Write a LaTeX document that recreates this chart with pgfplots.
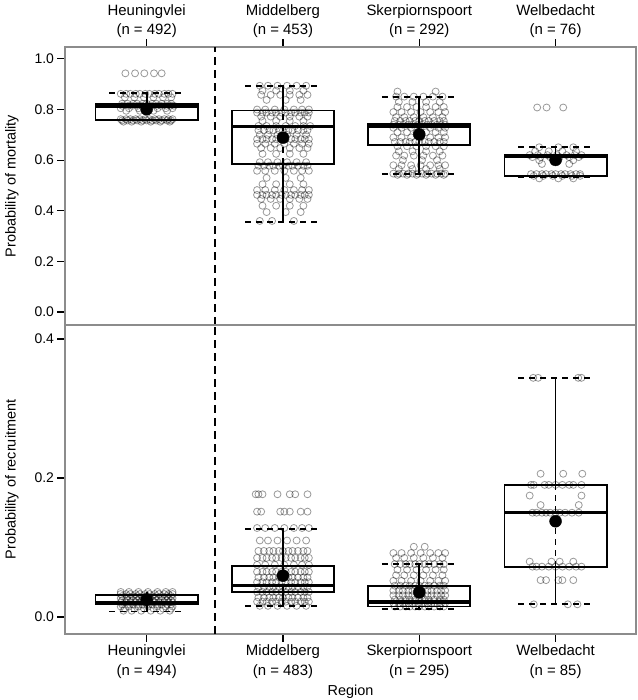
\documentclass[border=0pt]{standalone}
\usepackage{fontspec}
\setmainfont{Liberation Sans}
\usepackage{pgfplots}
\pgfplotsset{compat=1.18}
\pgfplotsset{
  pt/.style={only marks, mark=o, mark size=3.5bp, mark options={draw=black, draw opacity=0.4, line width=0.8bp}},
  bx/.style={black, line width=1.8bp, no marks},
  md/.style={black, line width=3.2bp, no marks},
  dsh/.style={black, line width=1.8bp, dash pattern=on 6bp off 5bp, no marks},
  mn/.style={only marks, mark=*, mark size=6bp, mark options={black, fill=black}},
  sep/.style={black, line width=1.6bp, dash pattern=on 8bp off 5bp, no marks},
  base/.style={
    scale only axis, width=571bp, xmin=0.401, xmax=4.59,
    axis line style={black!45, line width=1.2bp},
    tick align=outside, major tick length=7.5bp,
    tick style={black, line width=1.2bp},
    xtick={1,2,3,4}, ytick pos=left,
    /pgf/number format/assume math mode=true,
    yticklabel style={/pgf/number format/fixed, /pgf/number format/fixed zerofill, /pgf/number format/precision=1, font=\fontsize{14}{16}\selectfont},
    xticklabel style={align=center, font=\fontsize{15}{19.5}\selectfont},
    every axis y label/.style={at={(axis description cs:0,0.5)}, xshift=-53bp, rotate=90, anchor=center, font=\fontsize{14.5}{17}\selectfont},
    every axis x label/.style={at={(axis description cs:0.5,0)}, yshift=-58bp, anchor=center, font=\fontsize{14.5}{17}\selectfont},
  },
}
\begin{document}
\begin{tikzpicture}
% ---------------- TOP PANEL: mortality ----------------
\begin{axis}[base, at={(0bp,309bp)}, anchor=south west, height=278bp,
  ymin=-0.051, ymax=1.047, ytick={0,0.2,0.4,0.6,0.8,1},
  xtick pos=right, xticklabel pos=right,
  xticklabel style={yshift=-2bp},
  xticklabels={{Heuningvlei\\(n = 492)},{Middelberg\\(n = 453)},{Skerpiornspoort\\(n = 292)},{Welbedacht\\(n = 76)}},
  ylabel={Probability of mortality}]
\addplot[sep] coordinates {(1.5,-0.051)(1.5,1.047)};
% Heuningvlei points
\addplot[pt] coordinates {
(0.844,0.943)(0.915,0.943)(0.983,0.943)(1.054,0.943)(1.110,0.943)
(0.81,0.862)(0.85,0.862)(0.88,0.862)(0.92,0.862)(0.95,0.862)(0.99,0.862)(1.02,0.862)(1.06,0.862)(1.09,0.862)(1.13,0.862)(1.16,0.862)(1.19,0.862)
(0.84,0.848)(0.91,0.848)(0.98,0.848)(1.05,0.848)(1.12,0.848)(1.18,0.848)
(0.82,0.823)(0.86,0.823)(0.90,0.823)(0.93,0.823)(0.97,0.823)(1.00,0.823)(1.04,0.823)(1.07,0.823)(1.11,0.823)(1.15,0.823)(1.18,0.823)
(0.82,0.815)(0.865,0.815)(0.895,0.815)(0.935,0.815)(0.965,0.815)(1.005,0.815)(1.035,0.815)(1.075,0.815)(1.105,0.815)(1.145,0.815)(1.175,0.815)(1.20,0.815)
(0.81,0.805)(0.87,0.805)(0.94,0.805)(1.01,0.805)(1.08,0.805)(1.14,0.805)(1.19,0.805)
(0.85,0.795)(0.95,0.795)(1.05,0.795)(1.15,0.795)
(0.81,0.762)(0.85,0.762)(0.88,0.762)(0.92,0.762)(0.95,0.762)(0.99,0.762)(1.02,0.762)(1.06,0.762)(1.09,0.762)(1.13,0.762)(1.16,0.762)(1.19,0.762)
(0.82,0.757)(0.86,0.757)(0.90,0.757)(0.93,0.757)(0.97,0.757)(1.00,0.757)(1.04,0.757)(1.07,0.757)(1.11,0.757)(1.15,0.757)(1.18,0.757)
(0.83,0.752)(0.89,0.752)(0.96,0.752)(1.03,0.752)(1.10,0.752)(1.17,0.752)
};
% Middelberg points
\addplot[pt] coordinates {
(1.83,0.894)(1.89,0.894)(1.96,0.894)(2.03,0.894)(2.10,0.894)(2.17,0.894)
(1.85,0.875)(1.95,0.875)(2.05,0.875)(2.15,0.875)
(1.84,0.858)(1.91,0.858)(1.98,0.858)(2.05,0.858)(2.12,0.858)(2.18,0.858)
(1.88,0.838)(2.02,0.838)(2.13,0.838)
(1.81,0.80)(1.87,0.80)(1.94,0.80)(2.01,0.80)(2.08,0.80)(2.14,0.80)(2.19,0.80)
(1.81,0.788)(1.85,0.788)(1.88,0.788)(1.92,0.788)(1.95,0.788)(1.99,0.788)(2.02,0.788)(2.06,0.788)(2.09,0.788)(2.13,0.788)(2.16,0.788)(2.19,0.788)
(1.84,0.772)(1.91,0.772)(1.98,0.772)(2.05,0.772)(2.12,0.772)(2.18,0.772)
(1.85,0.755)(1.95,0.755)(2.05,0.755)(2.15,0.755)
(1.82,0.735)(1.88,0.735)(1.95,0.735)(2.02,0.735)(2.09,0.735)(2.15,0.735)(2.20,0.735)
(1.82,0.718)(1.86,0.718)(1.90,0.718)(1.93,0.718)(1.97,0.718)(2.00,0.718)(2.04,0.718)(2.07,0.718)(2.11,0.718)(2.15,0.718)(2.18,0.718)
(1.83,0.70)(1.89,0.70)(1.96,0.70)(2.03,0.70)(2.10,0.70)(2.17,0.70)
(1.81,0.683)(1.85,0.683)(1.88,0.683)(1.92,0.683)(1.95,0.683)(1.99,0.683)(2.02,0.683)(2.06,0.683)(2.09,0.683)(2.13,0.683)(2.16,0.683)(2.19,0.683)
(1.81,0.665)(1.87,0.665)(1.94,0.665)(2.01,0.665)(2.08,0.665)(2.14,0.665)(2.19,0.665)
(1.84,0.648)(1.91,0.648)(1.98,0.648)(2.05,0.648)(2.12,0.648)(2.18,0.648)
(1.85,0.625)(1.95,0.625)(2.05,0.625)(2.15,0.625)
(1.83,0.592)(1.89,0.592)(1.96,0.592)(2.03,0.592)(2.10,0.592)(2.17,0.592)
(1.82,0.578)(1.86,0.578)(1.90,0.578)(1.93,0.578)(1.97,0.578)(2.00,0.578)(2.04,0.578)(2.07,0.578)(2.11,0.578)(2.15,0.578)(2.18,0.578)
(1.81,0.558)(1.87,0.558)(1.94,0.558)(2.01,0.558)(2.08,0.558)(2.14,0.558)(2.19,0.558)
(1.88,0.53)(2.02,0.53)(2.13,0.53)
(1.85,0.505)(1.95,0.505)(2.05,0.505)(2.15,0.505)
(1.81,0.482)(1.87,0.482)(1.94,0.482)(2.01,0.482)(2.08,0.482)(2.14,0.482)(2.19,0.482)
(1.81,0.463)(1.85,0.463)(1.88,0.463)(1.92,0.463)(1.95,0.463)(1.99,0.463)(2.02,0.463)(2.06,0.463)(2.09,0.463)(2.13,0.463)(2.16,0.463)(2.19,0.463)
(1.84,0.447)(1.91,0.447)(1.98,0.447)(2.05,0.447)(2.12,0.447)(2.18,0.447)
(1.85,0.42)(1.95,0.42)(2.05,0.42)(2.15,0.42)
(1.88,0.395)(2.02,0.395)(2.13,0.395)
(1.83,0.36)(1.92,0.36)(2.08,0.36)
};
% Skerpiornspoort points
\addplot[pt] coordinates {
(2.84,0.871)(3.12,0.871)
(2.83,0.851)(2.89,0.851)(2.96,0.851)(3.03,0.851)(3.10,0.851)(3.17,0.851)
(2.85,0.83)(2.95,0.83)(3.05,0.83)(3.15,0.83)
(2.84,0.81)(2.91,0.81)(2.98,0.81)(3.05,0.81)(3.12,0.81)(3.18,0.81)
(2.81,0.79)(2.87,0.79)(2.94,0.79)(3.01,0.79)(3.08,0.79)(3.14,0.79)(3.19,0.79)
(2.83,0.77)(2.89,0.77)(2.96,0.77)(3.03,0.77)(3.10,0.77)(3.17,0.77)
(2.82,0.755)(2.86,0.755)(2.90,0.755)(2.93,0.755)(2.97,0.755)(3.00,0.755)(3.04,0.755)(3.07,0.755)(3.11,0.755)(3.15,0.755)(3.18,0.755)
(2.81,0.74)(2.85,0.74)(2.88,0.74)(2.92,0.74)(2.95,0.74)(2.99,0.74)(3.02,0.74)(3.06,0.74)(3.09,0.74)(3.13,0.74)(3.16,0.74)(3.19,0.74)
(2.81,0.728)(2.87,0.728)(2.94,0.728)(3.01,0.728)(3.08,0.728)(3.14,0.728)(3.19,0.728)
(2.84,0.71)(2.91,0.71)(2.98,0.71)(3.05,0.71)(3.12,0.71)(3.18,0.71)
(2.81,0.69)(2.87,0.69)(2.94,0.69)(3.01,0.69)(3.08,0.69)(3.14,0.69)(3.19,0.69)
(2.82,0.672)(2.86,0.672)(2.90,0.672)(2.93,0.672)(2.97,0.672)(3.00,0.672)(3.04,0.672)(3.07,0.672)(3.11,0.672)(3.15,0.672)(3.18,0.672)
(2.84,0.655)(2.91,0.655)(2.98,0.655)(3.05,0.655)(3.12,0.655)(3.18,0.655)
(2.85,0.635)(2.95,0.635)(3.05,0.635)(3.15,0.635)
(2.83,0.618)(2.89,0.618)(2.96,0.618)(3.03,0.618)(3.10,0.618)(3.17,0.618)
(2.88,0.60)(3.02,0.60)(3.13,0.60)
(2.81,0.58)(2.87,0.58)(2.94,0.58)(3.01,0.58)(3.08,0.58)(3.14,0.58)(3.19,0.58)
(2.85,0.565)(2.95,0.565)(3.05,0.565)(3.15,0.565)
(2.81,0.547)(2.85,0.547)(2.88,0.547)(2.92,0.547)(2.95,0.547)(2.99,0.547)(3.02,0.547)(3.06,0.547)(3.09,0.547)(3.13,0.547)(3.16,0.547)(3.19,0.547)
(2.84,0.542)(2.91,0.542)(2.98,0.542)(3.05,0.542)(3.12,0.542)(3.18,0.542)
};
% Welbedacht points
\addplot[pt] coordinates {
(3.865,0.808)(3.934,0.808)(4.056,0.808)
(3.88,0.651)(4.02,0.651)(4.13,0.651)
(3.85,0.635)(3.95,0.635)(4.05,0.635)(4.15,0.635)
(3.81,0.62)(3.87,0.62)(3.94,0.62)(4.01,0.62)(4.08,0.62)(4.14,0.62)(4.19,0.62)
(3.83,0.612)(3.89,0.612)(3.96,0.612)(4.03,0.612)(4.10,0.612)(4.17,0.612)
(3.88,0.60)(4.02,0.60)(4.13,0.60)
(3.90,0.585)(4.10,0.585)
(3.82,0.545)(3.86,0.545)(3.90,0.545)(3.93,0.545)(3.97,0.545)(4.00,0.545)(4.04,0.545)(4.07,0.545)(4.11,0.545)(4.15,0.545)(4.18,0.545)
(3.84,0.538)(3.91,0.538)(3.98,0.538)(4.05,0.538)(4.12,0.538)(4.18,0.538)
(3.88,0.528)(4.02,0.528)(4.13,0.528)
};
% boxes: Heuningvlei
\addplot[bx] coordinates {(0.625,0.759)(1.375,0.759)(1.375,0.821)(0.625,0.821)} --cycle;
\addplot[md] coordinates {(0.625,0.813)(1.375,0.813)};
\addplot[bx] coordinates {(1,0.821)(1,0.864)};
\addplot[dsh] coordinates {(0.725,0.864)(1.275,0.864)};
% Middelberg
\addplot[bx] coordinates {(1.625,0.584)(2.375,0.584)(2.375,0.796)(1.625,0.796)} --cycle;
\addplot[md] coordinates {(1.625,0.734)(2.375,0.734)};
\addplot[bx] coordinates {(2,0.796)(2,0.894)};
\addplot[bx] coordinates {(2,0.584)(2,0.357)};
\addplot[dsh] coordinates {(2,0.584)(2,0.796)};
\addplot[dsh] coordinates {(1.725,0.894)(2.275,0.894)};
\addplot[dsh] coordinates {(1.725,0.357)(2.275,0.357)};
% Skerpiornspoort
\addplot[bx] coordinates {(2.625,0.660)(3.375,0.660)(3.375,0.744)(2.625,0.744)} --cycle;
\addplot[md] coordinates {(2.625,0.733)(3.375,0.733)};
\addplot[bx] coordinates {(3,0.744)(3,0.851)};
\addplot[bx] coordinates {(3,0.660)(3,0.544)};
\addplot[dsh] coordinates {(3,0.660)(3,0.744)};
\addplot[dsh] coordinates {(2.725,0.851)(3.275,0.851)};
\addplot[dsh] coordinates {(2.725,0.544)(3.275,0.544)};
% Welbedacht
\addplot[bx] coordinates {(3.625,0.539)(4.375,0.539)(4.375,0.621)(3.625,0.621)} --cycle;
\addplot[md] coordinates {(3.625,0.614)(4.375,0.614)};
\addplot[bx] coordinates {(4,0.621)(4,0.651)};
\addplot[bx] coordinates {(4,0.539)(4,0.532)};
\addplot[dsh] coordinates {(3.725,0.651)(4.275,0.651)};
\addplot[dsh] coordinates {(3.725,0.532)(4.275,0.532)};
% means
\addplot[mn] coordinates {(1,0.801)(2,0.689)(3,0.702)(4,0.601)};
\end{axis}
% ---------------- BOTTOM PANEL: recruitment ----------------
\begin{axis}[base, at={(0bp,0bp)}, anchor=south west, height=309bp,
  ymin=-0.0245, ymax=0.420, ytick={0,0.2,0.4},
  xtick pos=left, xticklabel pos=left,
  xticklabels={{Heuningvlei\\(n = 494)},{Middelberg\\(n = 483)},{Skerpiornspoort\\(n = 295)},{Welbedacht\\(n = 85)}},
  xlabel={Region},
  ylabel={Probability of recruitment}]
\addplot[sep] coordinates {(1.5,-0.0245)(1.5,0.420)};
% Heuningvlei points
\addplot[pt] coordinates {
(0.81,0.036)(0.87,0.036)(0.94,0.036)(1.01,0.036)(1.08,0.036)(1.14,0.036)(1.19,0.036)
(0.81,0.033)(0.85,0.033)(0.88,0.033)(0.92,0.033)(0.95,0.033)(0.99,0.033)(1.02,0.033)(1.06,0.033)(1.09,0.033)(1.13,0.033)(1.16,0.033)(1.19,0.033)
(0.82,0.030)(0.86,0.030)(0.90,0.030)(0.93,0.030)(0.97,0.030)(1.00,0.030)(1.04,0.030)(1.07,0.030)(1.11,0.030)(1.15,0.030)(1.18,0.030)
(0.81,0.027)(0.85,0.027)(0.88,0.027)(0.92,0.027)(0.95,0.027)(0.99,0.027)(1.02,0.027)(1.06,0.027)(1.09,0.027)(1.13,0.027)(1.16,0.027)(1.19,0.027)
(0.82,0.024)(0.86,0.024)(0.90,0.024)(0.93,0.024)(0.97,0.024)(1.00,0.024)(1.04,0.024)(1.07,0.024)(1.11,0.024)(1.15,0.024)(1.18,0.024)
(0.81,0.021)(0.85,0.021)(0.88,0.021)(0.92,0.021)(0.95,0.021)(0.99,0.021)(1.02,0.021)(1.06,0.021)(1.09,0.021)(1.13,0.021)(1.16,0.021)(1.19,0.021)
(0.82,0.018)(0.86,0.018)(0.90,0.018)(0.93,0.018)(0.97,0.018)(1.00,0.018)(1.04,0.018)(1.07,0.018)(1.11,0.018)(1.15,0.018)(1.18,0.018)
(0.81,0.015)(0.87,0.015)(0.94,0.015)(1.01,0.015)(1.08,0.015)(1.14,0.015)(1.19,0.015)
(0.84,0.012)(0.91,0.012)(0.98,0.012)(1.05,0.012)(1.12,0.012)(1.18,0.012)
(0.83,0.009)(0.89,0.009)(0.96,0.009)(1.03,0.009)(1.10,0.009)(1.17,0.009)
};
% Middelberg points
\addplot[pt] coordinates {
(1.80,0.1765)(1.82,0.1765)(1.85,0.1765)(1.96,0.1765)(2.05,0.1765)(2.09,0.1765)(2.18,0.1765)
(1.81,0.1515)(1.84,0.1515)(1.98,0.1515)(2.01,0.1515)(2.05,0.1515)(2.13,0.1515)(2.18,0.1515)
(1.81,0.128)(1.87,0.128)(1.94,0.128)(2.01,0.128)(2.08,0.128)(2.14,0.128)(2.19,0.128)
(1.83,0.11)(1.89,0.11)(1.96,0.11)(2.03,0.11)(2.10,0.11)(2.17,0.11)
(1.82,0.095)(1.86,0.095)(1.90,0.095)(1.93,0.095)(1.97,0.095)(2.00,0.095)(2.04,0.095)(2.07,0.095)(2.11,0.095)(2.15,0.095)(2.18,0.095)
(1.81,0.085)(1.85,0.085)(1.88,0.085)(1.92,0.085)(1.95,0.085)(1.99,0.085)(2.02,0.085)(2.06,0.085)(2.09,0.085)(2.13,0.085)(2.16,0.085)(2.19,0.085)
(1.81,0.075)(1.87,0.075)(1.94,0.075)(2.01,0.075)(2.08,0.075)(2.14,0.075)(2.19,0.075)
(1.81,0.065)(1.85,0.065)(1.88,0.065)(1.92,0.065)(1.95,0.065)(1.99,0.065)(2.02,0.065)(2.06,0.065)(2.09,0.065)(2.13,0.065)(2.16,0.065)(2.19,0.065)
(1.82,0.057)(1.86,0.057)(1.90,0.057)(1.93,0.057)(1.97,0.057)(2.00,0.057)(2.04,0.057)(2.07,0.057)(2.11,0.057)(2.15,0.057)(2.18,0.057)
(1.81,0.050)(1.85,0.050)(1.88,0.050)(1.92,0.050)(1.95,0.050)(1.99,0.050)(2.02,0.050)(2.06,0.050)(2.09,0.050)(2.13,0.050)(2.16,0.050)(2.19,0.050)
(1.82,0.043)(1.86,0.043)(1.90,0.043)(1.93,0.043)(1.97,0.043)(2.00,0.043)(2.04,0.043)(2.07,0.043)(2.11,0.043)(2.15,0.043)(2.18,0.043)
(1.81,0.036)(1.85,0.036)(1.88,0.036)(1.92,0.036)(1.95,0.036)(1.99,0.036)(2.02,0.036)(2.06,0.036)(2.09,0.036)(2.13,0.036)(2.16,0.036)(2.19,0.036)
(1.82,0.028)(1.86,0.028)(1.90,0.028)(1.93,0.028)(1.97,0.028)(2.00,0.028)(2.04,0.028)(2.07,0.028)(2.11,0.028)(2.15,0.028)(2.18,0.028)
(1.81,0.022)(1.85,0.022)(1.88,0.022)(1.92,0.022)(1.95,0.022)(1.99,0.022)(2.02,0.022)(2.06,0.022)(2.09,0.022)(2.13,0.022)(2.16,0.022)(2.19,0.022)
(1.83,0.016)(1.89,0.016)(1.96,0.016)(2.03,0.016)(2.10,0.016)(2.17,0.016)
};
% Skerpiornspoort points
\addplot[pt] coordinates {
(2.96,0.101)(3.04,0.101)
(2.81,0.092)(2.87,0.092)(2.94,0.092)(3.01,0.092)(3.08,0.092)(3.14,0.092)(3.19,0.092)
(2.83,0.085)(2.89,0.085)(2.96,0.085)(3.03,0.085)(3.10,0.085)(3.17,0.085)
(2.82,0.076)(2.86,0.076)(2.90,0.076)(2.93,0.076)(2.97,0.076)(3.00,0.076)(3.04,0.076)(3.07,0.076)(3.11,0.076)(3.15,0.076)(3.18,0.076)
(2.84,0.068)(2.91,0.068)(2.98,0.068)(3.05,0.068)(3.12,0.068)(3.18,0.068)
(2.83,0.060)(2.89,0.060)(2.96,0.060)(3.03,0.060)(3.10,0.060)(3.17,0.060)
(2.81,0.052)(2.87,0.052)(2.94,0.052)(3.01,0.052)(3.08,0.052)(3.14,0.052)(3.19,0.052)
(2.82,0.045)(2.86,0.045)(2.90,0.045)(2.93,0.045)(2.97,0.045)(3.00,0.045)(3.04,0.045)(3.07,0.045)(3.11,0.045)(3.15,0.045)(3.18,0.045)
(2.81,0.038)(2.85,0.038)(2.88,0.038)(2.92,0.038)(2.95,0.038)(2.99,0.038)(3.02,0.038)(3.06,0.038)(3.09,0.038)(3.13,0.038)(3.16,0.038)(3.19,0.038)
(2.81,0.031)(2.85,0.031)(2.88,0.031)(2.92,0.031)(2.95,0.031)(2.99,0.031)(3.02,0.031)(3.06,0.031)(3.09,0.031)(3.13,0.031)(3.16,0.031)(3.19,0.031)
(2.82,0.025)(2.86,0.025)(2.90,0.025)(2.93,0.025)(2.97,0.025)(3.00,0.025)(3.04,0.025)(3.07,0.025)(3.11,0.025)(3.15,0.025)(3.18,0.025)
(2.81,0.020)(2.85,0.020)(2.88,0.020)(2.92,0.020)(2.95,0.020)(2.99,0.020)(3.02,0.020)(3.06,0.020)(3.09,0.020)(3.13,0.020)(3.16,0.020)(3.19,0.020)
(2.82,0.015)(2.86,0.015)(2.90,0.015)(2.93,0.015)(2.97,0.015)(3.00,0.015)(3.04,0.015)(3.07,0.015)(3.11,0.015)(3.15,0.015)(3.18,0.015)
};
% Welbedacht points
\addplot[pt] coordinates {
(3.836,0.344)(3.872,0.344)(4.166,0.344)(4.19,0.344)
(3.89,0.206)(4.056,0.206)(4.196,0.206)
(3.82,0.190)(3.84,0.190)(3.92,0.190)(3.95,0.190)(4.00,0.190)(4.05,0.190)(4.10,0.190)(4.13,0.190)(4.19,0.190)
(3.81,0.1746)(4.19,0.1746)
(3.89,0.161)(4.17,0.161)
(3.83,0.150)(3.86,0.150)(3.90,0.150)(3.93,0.150)(3.96,0.150)(4.00,0.150)(4.03,0.150)(4.07,0.150)(4.12,0.150)(4.17,0.150)
(3.81,0.0796)(3.97,0.0796)(4.03,0.0796)(4.13,0.0796)
(3.83,0.0724)(3.86,0.0724)(3.90,0.0724)(3.95,0.0724)(4.00,0.0724)(4.05,0.0724)(4.10,0.0724)(4.15,0.0724)(4.19,0.0724)
(3.89,0.053)(3.93,0.053)(4.02,0.053)(4.05,0.053)(4.13,0.053)
(3.84,0.0182)(4.09,0.0182)(4.16,0.0182)
};
% boxes: Heuningvlei
\addplot[bx] coordinates {(0.625,0.018)(1.375,0.018)(1.375,0.032)(0.625,0.032)} --cycle;
\addplot[md] coordinates {(0.625,0.021)(1.375,0.021)};
\addplot[bx] coordinates {(1,0.032)(1,0.036)};
\addplot[bx] coordinates {(1,0.018)(1,0.008)};
\addplot[dsh] coordinates {(0.725,0.008)(1.275,0.008)};
% Middelberg
\addplot[bx] coordinates {(1.625,0.0364)(2.375,0.0364)(2.375,0.0738)(1.625,0.0738)} --cycle;
\addplot[md] coordinates {(1.625,0.045)(2.375,0.045)};
\addplot[bx] coordinates {(2,0.0738)(2,0.1266)};
\addplot[bx] coordinates {(2,0.0364)(2,0.0158)};
\addplot[dsh] coordinates {(2,0.0364)(2,0.0738)};
\addplot[dsh] coordinates {(1.725,0.1266)(2.275,0.1266)};
\addplot[dsh] coordinates {(1.725,0.0158)(2.275,0.0158)};
% Skerpiornspoort
\addplot[bx] coordinates {(2.625,0.0152)(3.375,0.0152)(3.375,0.0441)(2.625,0.0441)} --cycle;
\addplot[md] coordinates {(2.625,0.0215)(3.375,0.0215)};
\addplot[bx] coordinates {(3,0.0441)(3,0.0765)};
\addplot[bx] coordinates {(3,0.0152)(3,0.012)};
\addplot[dsh] coordinates {(2.725,0.0765)(3.275,0.0765)};
\addplot[dsh] coordinates {(2.725,0.012)(3.275,0.012)};
% Welbedacht
\addplot[bx] coordinates {(3.625,0.0724)(4.375,0.0724)(4.375,0.190)(3.625,0.190)} --cycle;
\addplot[md] coordinates {(3.625,0.150)(4.375,0.150)};
\addplot[bx] coordinates {(4,0.190)(4,0.344)};
\addplot[bx] coordinates {(4,0.0724)(4,0.0182)};
\addplot[dsh] coordinates {(4,0.0724)(4,0.190)};
\addplot[dsh] coordinates {(3.725,0.344)(4.275,0.344)};
\addplot[dsh] coordinates {(3.725,0.0182)(4.275,0.0182)};
% means
\addplot[mn] coordinates {(1,0.025)(2,0.0594)(3,0.0355)(4,0.1377)};
\end{axis}
\pgfresetboundingbox
\path[use as bounding box] (-65bp,-66bp) rectangle (573bp,634bp);
\end{tikzpicture}
\end{document}
